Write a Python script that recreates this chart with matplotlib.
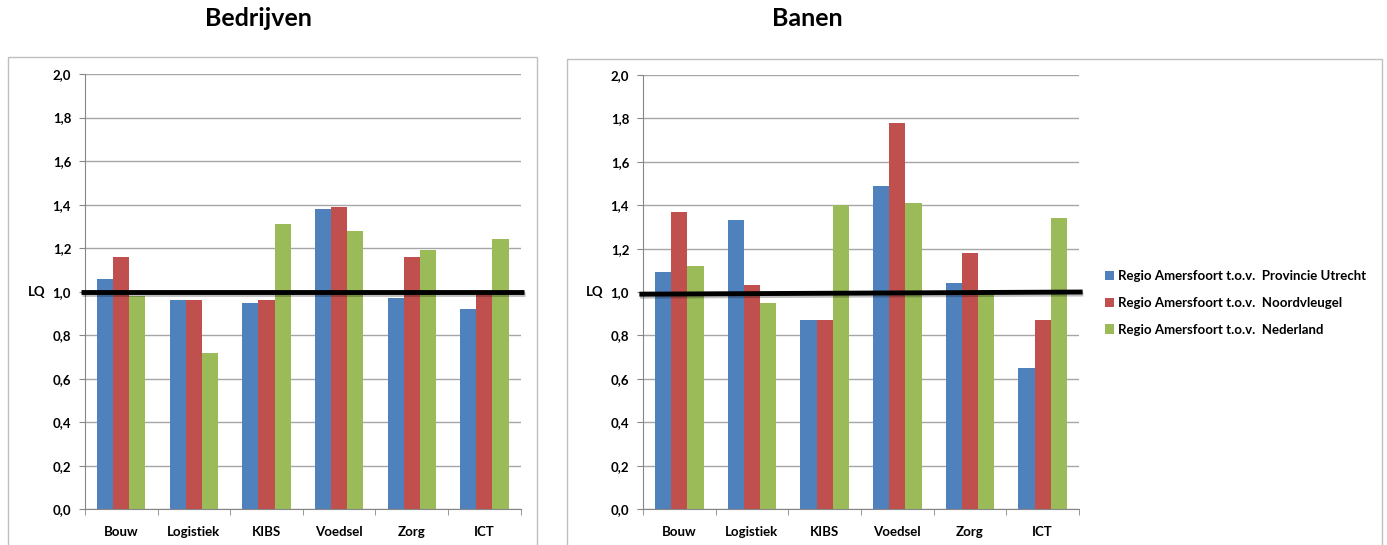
import matplotlib.pyplot as plt
import matplotlib.patheffects as pe
from matplotlib.patches import Rectangle
import numpy as np

plt.rcParams['font.family'] = ['Lato', 'DejaVu Sans']
plt.rcParams['font.weight'] = 'bold'

sectors = ['Bouw', 'Logistiek', 'KIBS', 'Voedsel', 'Zorg', 'ICT']
series = ['Regio Amersfoort t.o.v.  Provincie Utrecht',
          'Regio Amersfoort t.o.v.  Noordvleugel',
          'Regio Amersfoort t.o.v.  Nederland']
colors = ['#4F81BD', '#C0504D', '#9BBB59']

# location quotients per sector
bedrijven_utrecht = [1.06, 0.96, 0.95, 1.38, 0.97, 0.92]
bedrijven_noordvleugel = [1.16, 0.96, 0.96, 1.39, 1.16, 1.00]
bedrijven_nederland = [0.98, 0.72, 1.31, 1.28, 1.19, 1.24]

banen_utrecht = [1.09, 1.33, 0.87, 1.49, 1.04, 0.65]
banen_noordvleugel = [1.37, 1.03, 0.87, 1.78, 1.18, 0.87]
banen_nederland = [1.12, 0.95, 1.40, 1.41, 1.00, 1.34]

yticks = [0.0, 0.2, 0.4, 0.6, 0.8, 1.0, 1.2, 1.4, 1.6, 1.8, 2.0]

W, H = 1387, 545
fig = plt.figure(figsize=(W / 100, H / 100), dpi=100)

# light grey frames around both charts
for x0, y0, w, h in [(8, 57, 529, 500), (567, 59, 815, 500)]:
    fig.patches.append(Rectangle((x0 / W, 1 - (y0 + h) / H), w / W, h / H,
                                 transform=fig.transFigure, fill=False,
                                 edgecolor='#BFBFBF', linewidth=1.0))


def draw_panel(ax, data, lq_ends):
    x = np.arange(len(sectors))
    width = 0.222
    for i, vals in enumerate(data):
        ax.bar(x + (i - 1) * width, vals, width, color=colors[i],
               label=series[i], zorder=2)
    ax.set_xlim(-0.5, len(sectors) - 0.5)
    ax.set_ylim(0, 2.0)
    ax.set_yticks(yticks)
    ax.set_yticklabels([f'{t:.1f}'.replace('.', ',') for t in yticks])
    ax.set_xticks(x)
    ax.set_xticklabels(sectors)
    ax.set_xticks(np.arange(-0.5, len(sectors)), minor=True)
    ax.tick_params(axis='x', which='major', length=0, pad=12, labelsize=9.5)
    ax.tick_params(axis='x', which='minor', length=4, color='#868686')
    ax.tick_params(axis='y', length=4, color='#868686', labelsize=9.5, pad=6)
    ax.grid(axis='y', color='#A6A6A6', linewidth=1.0, zorder=0)
    ax.set_axisbelow(True)
    for s in ['top', 'right']:
        ax.spines[s].set_visible(False)
    for s in ['left', 'bottom']:
        ax.spines[s].set_color('#868686')
    # LQ = 1 reference line
    ax.plot([-0.55, len(sectors) - 0.45], lq_ends, color='black', linewidth=3.5,
            solid_capstyle='butt', clip_on=False, zorder=5,
            path_effects=[pe.SimpleLineShadow(offset=(0.5, -1.5), alpha=0.25),
                          pe.Normal()])
    ax.text(-0.09, 1.0, 'LQ', transform=ax.get_yaxis_transform(),
            ha='right', va='center', fontsize=9.5, fontweight='bold')


ax1 = fig.add_axes([85 / W, 1 - 509.3 / H, 435.7 / W, 435.3 / H])
draw_panel(ax1, [bedrijven_utrecht, bedrijven_noordvleugel, bedrijven_nederland],
           [1.0, 1.0])

ax2 = fig.add_axes([643 / W, 1 - 509 / H, 436 / W, 434 / H])
draw_panel(ax2, [banen_utrecht, banen_noordvleugel, banen_nederland],
           [0.99, 1.0])

fig.text(258 / W, 1 - 19 / H, 'Bedrijven', ha='center', va='center',
         fontsize=18, fontweight='bold')
fig.text(807 / W, 1 - 19 / H, 'Banen', ha='center', va='center',
         fontsize=18, fontweight='bold')

handles, labels = ax2.get_legend_handles_labels()
fig.legend(handles, labels, loc='center left', bbox_to_anchor=(1093 / W, 1 - 303 / H),
           frameon=False, fontsize=9.5, handlelength=0.7, handleheight=0.7,
           handletextpad=0.3, labelspacing=1.1)

fig.savefig('out.png', dpi=100)
